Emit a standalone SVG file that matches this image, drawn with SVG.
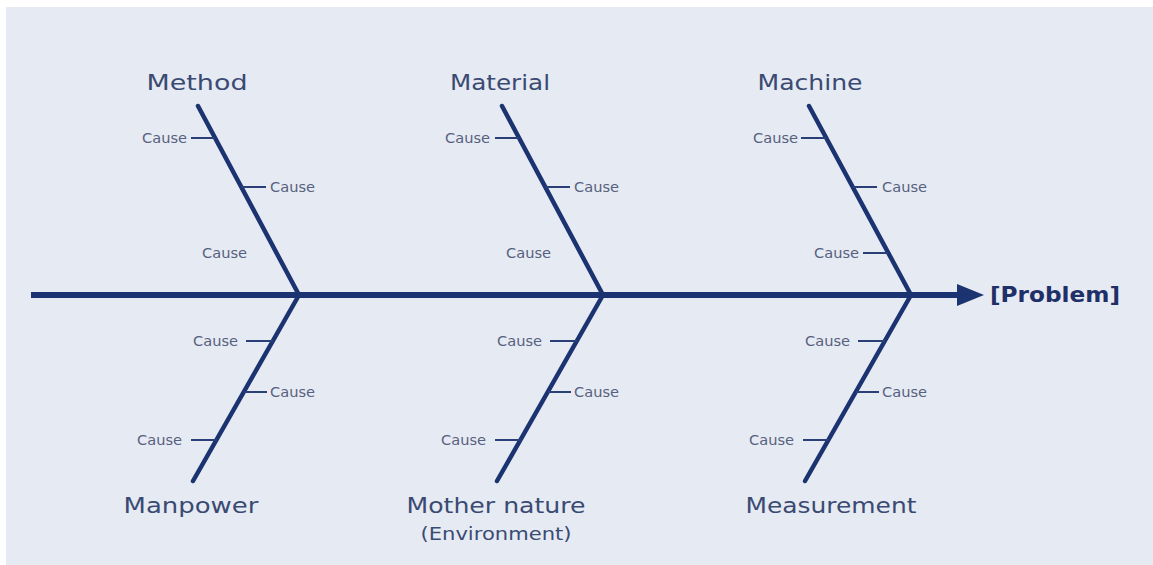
<svg xmlns="http://www.w3.org/2000/svg" width="1153" height="565" viewBox="0 0 1153 565">
<defs>
<style>
.bone{stroke:#1b3370;stroke-width:4.5;stroke-linecap:round;fill:none}
.spine{stroke:#1b3370;stroke-width:6;fill:none}
.tick{stroke:#2a3f78;stroke-width:2;fill:none}
.cat{font-family:"DejaVu Sans","Noto Sans",sans-serif;font-size:22px;fill:#3a4a72;text-anchor:middle}
.env{font-family:"DejaVu Sans","Noto Sans",sans-serif;font-size:17px;fill:#3a4a72;text-anchor:middle}
.cause{font-family:"DejaVu Sans","Noto Sans",sans-serif;font-size:13.5px;fill:#56617f}
.prob{font-family:"DejaVu Sans","Noto Sans",sans-serif;font-size:21px;font-weight:bold;fill:#1f3068}
</style>
</defs>
<rect x="0" y="0" width="1153" height="565" fill="#ffffff"/>
<rect x="6" y="7" width="1147" height="558" fill="#e6eaf2"/>
<g id="connectors">
<line class="spine" x1="31" y1="295" x2="960" y2="295"/>
<polygon points="957,284 984,295 957,306" fill="#1b3370"/>
<line class="bone" x1="198" y1="106" x2="299" y2="295"/>
<line class="bone" x1="502" y1="106" x2="603" y2="295"/>
<line class="bone" x1="809" y1="106" x2="911" y2="295"/>
<line class="bone" x1="299" y1="295" x2="193" y2="481"/>
<line class="bone" x1="603" y1="295" x2="497" y2="481"/>
<line class="bone" x1="911" y1="295" x2="805" y2="481"/>
</g>
<g id="problem"><text class="prob" x="990" y="302" textLength="130" lengthAdjust="spacingAndGlyphs">[Problem]</text></g>
<g id="method">
<text class="cat" x="197" y="90" textLength="101" lengthAdjust="spacingAndGlyphs">Method</text>
<line class="tick" x1="191" y1="138" x2="215" y2="138"/>
<text class="cause" x="142" y="143" textLength="45" lengthAdjust="spacingAndGlyphs">Cause</text>
<line class="tick" x1="241" y1="187" x2="266" y2="187"/>
<text class="cause" x="270" y="192" textLength="45" lengthAdjust="spacingAndGlyphs">Cause</text>
<text class="cause" x="202" y="258" textLength="45" lengthAdjust="spacingAndGlyphs">Cause</text>
</g>
<g id="material">
<text class="cat" x="500" y="90" textLength="100" lengthAdjust="spacingAndGlyphs">Material</text>
<line class="tick" x1="495" y1="138" x2="519" y2="138"/>
<text class="cause" x="445" y="143" textLength="45" lengthAdjust="spacingAndGlyphs">Cause</text>
<line class="tick" x1="545" y1="187" x2="570" y2="187"/>
<text class="cause" x="574" y="192" textLength="45" lengthAdjust="spacingAndGlyphs">Cause</text>
<text class="cause" x="506" y="258" textLength="45" lengthAdjust="spacingAndGlyphs">Cause</text>
</g>
<g id="machine">
<text class="cat" x="810" y="90" textLength="105" lengthAdjust="spacingAndGlyphs">Machine</text>
<line class="tick" x1="801" y1="138" x2="826" y2="138"/>
<text class="cause" x="753" y="143" textLength="45" lengthAdjust="spacingAndGlyphs">Cause</text>
<line class="tick" x1="853" y1="187" x2="877" y2="187"/>
<text class="cause" x="882" y="192" textLength="45" lengthAdjust="spacingAndGlyphs">Cause</text>
<line class="tick" x1="863" y1="253" x2="888" y2="253"/>
<text class="cause" x="814" y="258" textLength="45" lengthAdjust="spacingAndGlyphs">Cause</text>
</g>
<g id="manpower">
<text class="cat" x="191" y="513" textLength="135" lengthAdjust="spacingAndGlyphs">Manpower</text>
<line class="tick" x1="246" y1="341" x2="273" y2="341"/>
<text class="cause" x="193" y="346" textLength="45" lengthAdjust="spacingAndGlyphs">Cause</text>
<line class="tick" x1="244" y1="392" x2="267" y2="392"/>
<text class="cause" x="270" y="397" textLength="45" lengthAdjust="spacingAndGlyphs">Cause</text>
<line class="tick" x1="191" y1="440" x2="217" y2="440"/>
<text class="cause" x="137" y="445" textLength="45" lengthAdjust="spacingAndGlyphs">Cause</text>
</g>
<g id="mother-nature">
<text class="cat" x="496" y="513" textLength="179" lengthAdjust="spacingAndGlyphs">Mother nature</text>
<text class="env" x="496" y="540" textLength="151" lengthAdjust="spacingAndGlyphs">(Environment)</text>
<line class="tick" x1="550" y1="341" x2="577" y2="341"/>
<text class="cause" x="497" y="346" textLength="45" lengthAdjust="spacingAndGlyphs">Cause</text>
<line class="tick" x1="548" y1="392" x2="571" y2="392"/>
<text class="cause" x="574" y="397" textLength="45" lengthAdjust="spacingAndGlyphs">Cause</text>
<line class="tick" x1="495" y1="440" x2="521" y2="440"/>
<text class="cause" x="441" y="445" textLength="45" lengthAdjust="spacingAndGlyphs">Cause</text>
</g>
<g id="measurement">
<text class="cat" x="831" y="513" textLength="171" lengthAdjust="spacingAndGlyphs">Measurement</text>
<line class="tick" x1="858" y1="341" x2="885" y2="341"/>
<text class="cause" x="805" y="346" textLength="45" lengthAdjust="spacingAndGlyphs">Cause</text>
<line class="tick" x1="856" y1="392" x2="879" y2="392"/>
<text class="cause" x="882" y="397" textLength="45" lengthAdjust="spacingAndGlyphs">Cause</text>
<line class="tick" x1="803" y1="440" x2="829" y2="440"/>
<text class="cause" x="749" y="445" textLength="45" lengthAdjust="spacingAndGlyphs">Cause</text>
</g>
</svg>
